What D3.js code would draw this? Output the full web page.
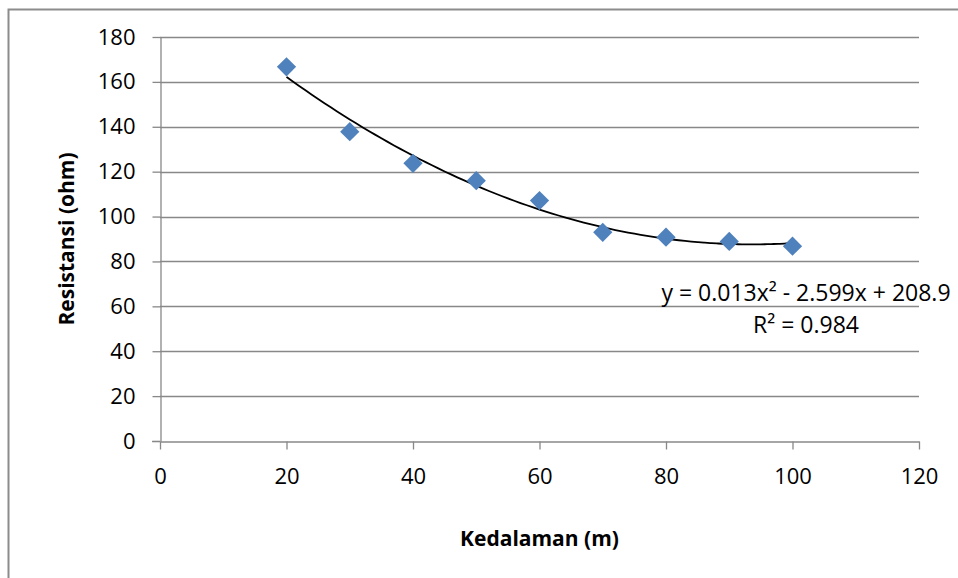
<!DOCTYPE html>
<html>
<head>
<meta charset="utf-8">
<script src="https://cdn.jsdelivr.net/npm/d3@7"></script>
<style>
  html, body { margin: 0; padding: 0; background: #fff; }
  svg { display: block; font-family: "Open Sans", "Noto Sans", sans-serif; }
</style>
</head>
<body>
<svg id="chart" width="958" height="578"></svg>
<script>
'use strict';

// ─── Data ─────────────────────────────────────────────────────────────────────
const depths      = [20, 30, 40, 50, 60, 70, 80, 90, 100];
const resistances = [166.7, 137.8, 123.7, 116.0, 107.1, 93.0, 90.8, 88.9, 86.8];
const xTicks = [0, 20, 40, 60, 80, 100, 120];
const yTicks = [0, 20, 40, 60, 80, 100, 120, 140, 160, 180];
const eqLine1 = 'y = 0.013x² - 2.599x + 208.9';
const eqLine2 = 'R² = 0.984';

// ─── Layout ───────────────────────────────────────────────────────────────────
const W = 958, H = 578;
const plot = { left: 160, right: 919, top: 37, bottom: 441 };
const GRID = '#888888';
const BLUE = '#4F81BD';

const svg = d3.select('#chart');

const x = d3.scaleLinear().domain([0, 120]).range([plot.left, plot.right]);
const y = d3.scaleLinear().domain([0, 180]).range([plot.bottom, plot.top]);

// outer chart border (only top and left visible in the crop)
svg.append('path')
  .attr('d', `M8.5,${H} V9.5 H${W}`)
  .attr('fill', 'none')
  .attr('stroke', '#8c8c8c')
  .attr('stroke-width', 2);

// horizontal gridlines
svg.append('g').selectAll('line')
  .data(yTicks.filter(t => t > 0))
  .join('line')
  .attr('x1', plot.left).attr('x2', plot.right)
  .attr('y1', d => Math.round(y(d)) + 0.5).attr('y2', d => Math.round(y(d)) + 0.5)
  .attr('stroke', GRID).attr('stroke-width', 1.3);

// y axis
const yAxis = svg.append('g')
  .attr('transform', `translate(${plot.left + 0.5},0)`)
  .call(d3.axisLeft(y).tickValues(yTicks).tickSize(8).tickPadding(17).tickSizeOuter(0));
yAxis.select('.domain').attr('stroke', GRID).attr('stroke-width', 1.3);
yAxis.selectAll('.tick line').attr('stroke', GRID).attr('stroke-width', 1.3);
yAxis.selectAll('.tick text')
  .attr('font-size', 22).attr('fill', '#000')
  .attr('font-family', '"Open Sans", sans-serif');

// x axis
const xAxis = svg.append('g')
  .attr('transform', `translate(0,${Math.round(plot.bottom) + 0.5})`)
  .call(d3.axisBottom(x).tickValues(xTicks).tickSize(8).tickPadding(19).tickSizeOuter(0));
xAxis.select('.domain').attr('stroke', GRID).attr('stroke-width', 1.3);
xAxis.selectAll('.tick line').attr('stroke', GRID).attr('stroke-width', 1.3);
xAxis.selectAll('.tick text')
  .attr('font-size', 22).attr('fill', '#000')
  .attr('font-family', '"Open Sans", sans-serif');
// the 0 gridline extends left as a tick
svg.append('line')
  .attr('x1', plot.left - 8).attr('x2', plot.left)
  .attr('y1', Math.round(plot.bottom) + 0.5).attr('y2', Math.round(plot.bottom) + 0.5)
  .attr('stroke', GRID).attr('stroke-width', 1.3);

// ─── Polynomial (order 2) trendline, least squares on the data ────────────────
function fitQuadratic(xs, ys) {
  const s = [0, 0, 0, 0, 0], t = [0, 0, 0];
  xs.forEach((xi, i) => {
    for (let k = 0; k <= 4; k++) s[k] += Math.pow(xi, k);
    for (let k = 0; k <= 2; k++) t[k] += Math.pow(xi, k) * ys[i];
  });
  const A = [[s[0], s[1], s[2], t[0]], [s[1], s[2], s[3], t[1]], [s[2], s[3], s[4], t[2]]];
  for (let i = 0; i < 3; i++) {
    for (let j = i + 1; j < 3; j++) {
      const f = A[j][i] / A[i][i];
      for (let k = i; k < 4; k++) A[j][k] -= f * A[i][k];
    }
  }
  const c = [0, 0, 0];
  for (let i = 2; i >= 0; i--) {
    let v = A[i][3];
    for (let k = i + 1; k < 3; k++) v -= A[i][k] * c[k];
    c[i] = v / A[i][i];
  }
  return xv => c[0] + c[1] * xv + c[2] * xv * xv;
}

const trend = fitQuadratic(depths, resistances);
const trendPts = d3.range(depths[0], depths[depths.length - 1] + 0.01, 1);

svg.append('path')
  .datum(trendPts)
  .attr('fill', 'none')
  .attr('stroke', '#000')
  .attr('stroke-width', 1.8)
  .attr('d', d3.line().x(d => x(d)).y(d => y(trend(d))).curve(d3.curveMonotoneX));

// ─── Markers (diamonds) ───────────────────────────────────────────────────────
const diamond = d3.symbol().type(d3.symbolSquare).size(185)();
svg.append('g').selectAll('path')
  .data(depths.map((d, i) => [d, resistances[i]]))
  .join('path')
  .attr('d', diamond)
  .attr('transform', d => `translate(${x(d[0])},${y(d[1])}) rotate(45)`)
  .attr('fill', BLUE);

// ─── Trendline label ──────────────────────────────────────────────────────────
const eq = svg.append('g').attr('font-size', 23).attr('fill', '#000').attr('text-anchor', 'middle');
eq.append('text').attr('x', 806).attr('y', 301).text(eqLine1);
eq.append('text').attr('x', 806).attr('y', 333).text(eqLine2);

// ─── Axis titles ──────────────────────────────────────────────────────────────
svg.append('text')
  .attr('x', (plot.left + plot.right) / 2)
  .attr('y', 546)
  .attr('text-anchor', 'middle')
  .attr('font-size', 21)
  .attr('font-weight', 'bold')
  .text('Kedalaman (m)');

svg.append('text')
  .attr('transform', `translate(74,${(plot.top + plot.bottom) / 2}) rotate(-90)`)
  .attr('text-anchor', 'middle')
  .attr('font-size', 21)
  .attr('font-weight', 'bold')
  .text('Resistansi (ohm)');
</script>
</body>
</html>
